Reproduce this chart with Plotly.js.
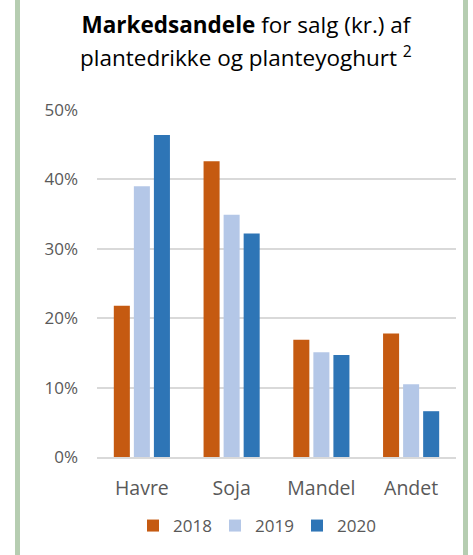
<!DOCTYPE html>
<html>
<head>
<meta charset="utf-8">
<script src="https://cdn.plot.ly/plotly-3.0.1.min.js"></script>
<style>
  html, body { margin: 0; padding: 0; background: #ffffff; }
  #wrap { position: relative; width: 473px; height: 555px; }
  #chart { width: 473px; height: 555px; }
  .edge { position: absolute; top: 0; width: 5px; height: 555px; background: #b6cdb1; }
</style>
</head>
<body>
<div id="wrap">
  <div id="chart"></div>
  <div class="edge" style="left:15px"></div>
  <div class="edge" style="left:463px"></div>
</div>
<script>
const categories = ["Havre", "Soja", "Mandel", "Andet"];
const years = ["2018", "2019", "2020"];
const values2018 = [0.218, 0.426, 0.169, 0.178];
const values2019 = [0.390, 0.349, 0.151, 0.105];
const values2020 = [0.464, 0.322, 0.147, 0.066];
const colors = ["#c55a11", "#b4c7e7", "#2e75b6"];
const yTicks = [0, 0.1, 0.2, 0.3, 0.4, 0.5];
const yTickLabels = ["0%", "10%", "20%", "30%", "40%", "50%"];

const series = [values2018, values2019, values2020];
const font = "'Open Sans', 'Noto Sans', sans-serif";

const data = series.map((vals, i) => ({
  type: "bar",
  name: years[i],
  x: categories,
  y: vals,
  marker: { color: colors[i], line: { width: 0 } },
  hoverinfo: "none"
}));

const layout = {
  width: 473,
  height: 555,
  margin: { l: 97, r: 17, t: 110, b: 98, autoexpand: false },
  paper_bgcolor: "#ffffff",
  plot_bgcolor: "#ffffff",
  barmode: "group",
  bargap: 0.33,
  bargroupgap: 0.2,
  title: {
    text: "<b>Markedsandele</b> for salg (kr.) af",
    font: { family: font, size: 22.5, color: "#000000" },
    xref: "container", x: 0.52, xanchor: "center",
    yref: "container", y: 1 - 25 / 555, yanchor: "middle"
  },
  annotations: [{
    text: "plantedrikke og planteyoghurt <sup>2</sup>",
    xref: "paper", yref: "paper",
    x: (246 - 97) / 359, y: (457 - 57) / 347,
    xanchor: "center", yanchor: "middle",
    showarrow: false,
    font: { family: font, size: 22.5, color: "#000000" }
  }],
  xaxis: {
    type: "category",
    showgrid: false,
    showline: true,
    linecolor: "#d9d9d9",
    linewidth: 2,
    ticks: "",
    ticklabelstandoff: 13,
    tickfont: { family: font, size: 19.5, color: "#595959" },
    fixedrange: true
  },
  yaxis: {
    range: [0, 0.5],
    tickvals: yTicks,
    ticktext: yTickLabels,
    showgrid: true,
    gridcolor: "#d9d9d9",
    gridwidth: 2,
    zeroline: false,
    showline: false,
    ticks: "",
    ticklabelstandoff: 18,
    tickfont: { family: font, size: 17, color: "#595959" },
    fixedrange: true
  },
  showlegend: true,
  legend: {
    orientation: "h",
    entrywidth: 37,
    entrywidthmode: "pixels",
    bgcolor: "rgba(0,0,0,0)",
    x: (133 - 97) / 359, xanchor: "left",
    y: (457 - 526) / 347, yanchor: "middle",
    font: { family: font, size: 17, color: "#595959" },
    itemclick: false, itemdoubleclick: false,
    traceorder: "normal"
  }
};

Plotly.newPlot("chart", data, layout, { displayModeBar: false, staticPlot: true });
</script>
</body>
</html>
